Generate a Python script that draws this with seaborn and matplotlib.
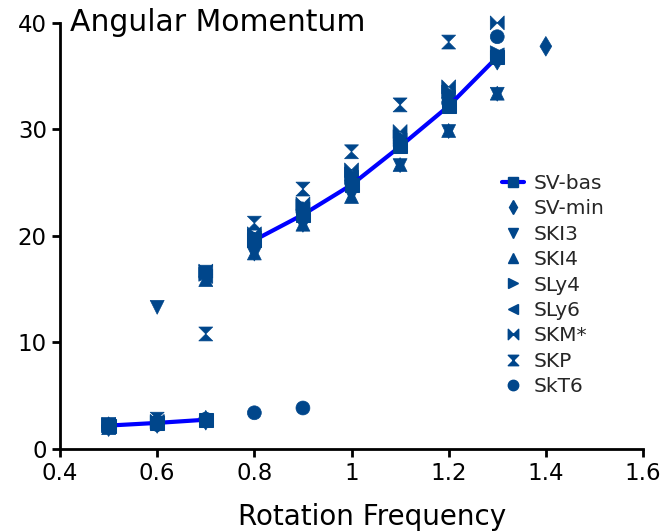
import numpy as np
import pandas as pd
import matplotlib
matplotlib.use("Agg")
import matplotlib.pyplot as plt
from matplotlib.path import Path
from matplotlib.lines import Line2D
from matplotlib.ticker import FuncFormatter
import seaborn as sns

# Rotation frequencies and angular momentum per Skyrme parametrisation
freq = [0.5, 0.6, 0.7, 0.8, 0.9, 1.0, 1.1, 1.2, 1.3, 1.4]

sv_bas_freq = [0.5, 0.6, 0.7, 0.8, 0.9, 1.0, 1.1, 1.2, 1.3]
sv_bas_vals = [2.2, 2.45, 2.75, 19.6, 22.0, 24.8, 28.4, 32.2, 36.8]
sv_bas_branch = [0, 0, 0, 1, 1, 1, 1, 1, 1]

sv_min = [2.1, 2.4, 2.7, 19.4, 22.3, 25.2, 28.8, 32.8, 36.5, 37.8]
ski3 = [2.3, 13.3, 16.6, 18.3, 21.0, 23.8, 26.6, 29.8, 33.3, np.nan]
ski4 = [2.0, 2.6, 15.9, 18.4, 21.1, 23.7, 26.7, 29.9, 33.4, np.nan]
sly4 = [2.2, 2.5, 16.4, 20.0, 22.8, 25.8, 29.3, 33.5, 37.2, np.nan]
sly6 = [2.2, 2.5, 16.2, 19.8, 22.5, 25.5, 29.0, 33.0, 37.0, np.nan]
skm = [2.3, 2.6, 16.7, 20.2, 23.0, 26.2, 29.8, 34.0, 40.0, np.nan]
skp = [2.2, 2.8, 10.8, 21.2, 24.4, 27.9, 32.3, 38.2, np.nan, np.nan]
skt6 = [2.1, 2.3, 2.8, 3.4, 3.85, 25.0, 28.5, 32.5, 38.7, np.nan]

models = ["SV-bas", "SV-min", "SKI3", "SKI4", "SLy4", "SLy6", "SKM*", "SKP", "SkT6"]
xticks = [0.4, 0.6, 0.8, 1.0, 1.2, 1.4, 1.6]
yticks = [0, 10, 20, 30, 40]

# custom filled markers: bow-tie and hourglass
bowtie = Path([(-1, 1), (-1, -1), (1, 1), (1, -1), (-1, 1)],
              [Path.MOVETO, Path.LINETO, Path.LINETO, Path.LINETO, Path.CLOSEPOLY])
hourglass = Path([(-1, 1), (1, 1), (-1, -1), (1, -1), (-1, 1)],
                 [Path.MOVETO, Path.LINETO, Path.LINETO, Path.LINETO, Path.CLOSEPOLY])

markers = {"SV-min": "d", "SKI3": "v", "SKI4": "^", "SLy4": ">", "SLy6": "<",
           "SKM*": bowtie, "SKP": hourglass, "SkT6": "o"}

series = {"SV-min": sv_min, "SKI3": ski3, "SKI4": ski4, "SLy4": sly4,
          "SLy6": sly6, "SKM*": skm, "SKP": skp, "SkT6": skt6}
long = pd.concat(
    [pd.DataFrame({"freq": freq, "J": vals, "model": name}) for name, vals in series.items()],
    ignore_index=True).dropna()

bas = pd.DataFrame({"freq": sv_bas_freq, "J": sv_bas_vals, "branch": sv_bas_branch})

sns.set_theme(style="ticks")
plt.rcParams["font.family"] = ["DejaVu Sans"]

mcol = "#00468b"
lcol = "#0000ff"
ms = 10

fig = plt.figure(figsize=(6.67, 5.32), dpi=100)
ax = fig.add_axes([0.09, 0.156, 0.874, 0.801])

sns.scatterplot(data=long, x="freq", y="J", style="model", markers=markers,
                color=mcol, s=ms ** 2, edgecolor=mcol, linewidth=0.5,
                legend=False, ax=ax, zorder=3, clip_on=False)
sns.lineplot(data=bas, x="freq", y="J", units="branch", estimator=None,
             color=lcol, lw=3, marker="s", markersize=ms, markerfacecolor=mcol,
             markeredgecolor=mcol, ax=ax, zorder=4, clip_on=False)

ax.set_xlim(0.4, 1.6)
ax.set_ylim(0, 40)
ax.set_xticks(xticks)
ax.set_yticks(yticks)
ax.xaxis.set_major_formatter(FuncFormatter(lambda v, p: f"{v:g}"))
ax.tick_params(axis="both", labelsize=16.5, width=2, length=6, color="black",
               labelcolor="black", direction="out")
for side in ("left", "bottom"):
    ax.spines[side].set_linewidth(2)
    ax.spines[side].set_color("black")
sns.despine(ax=ax)

ax.set_xlabel("Rotation Frequency", fontsize=20, color="black")
ax.set_ylabel("")
ax.xaxis.set_label_coords(0.535, -0.127)
ax.text(0.017, 1.0, "Angular Momentum", transform=ax.transAxes,
        fontsize=21.5, va="center", ha="left", color="black")

handles = [Line2D([], [], color=lcol, lw=3, marker="s", markersize=ms,
                  markerfacecolor=mcol, markeredgecolor=mcol)]
for name in models[1:]:
    handles.append(Line2D([], [], ls="none", marker=markers[name], markersize=ms,
                          markerfacecolor=mcol, markeredgecolor=mcol))
ax.legend(handles, models, loc="upper left", bbox_to_anchor=(0.758, 0.645),
          frameon=False, fontsize=14.5, handlelength=1.1, handletextpad=0.45,
          labelspacing=0.315, markerscale=0.75, borderpad=0, borderaxespad=0)

fig.savefig("out.png", dpi=100)
